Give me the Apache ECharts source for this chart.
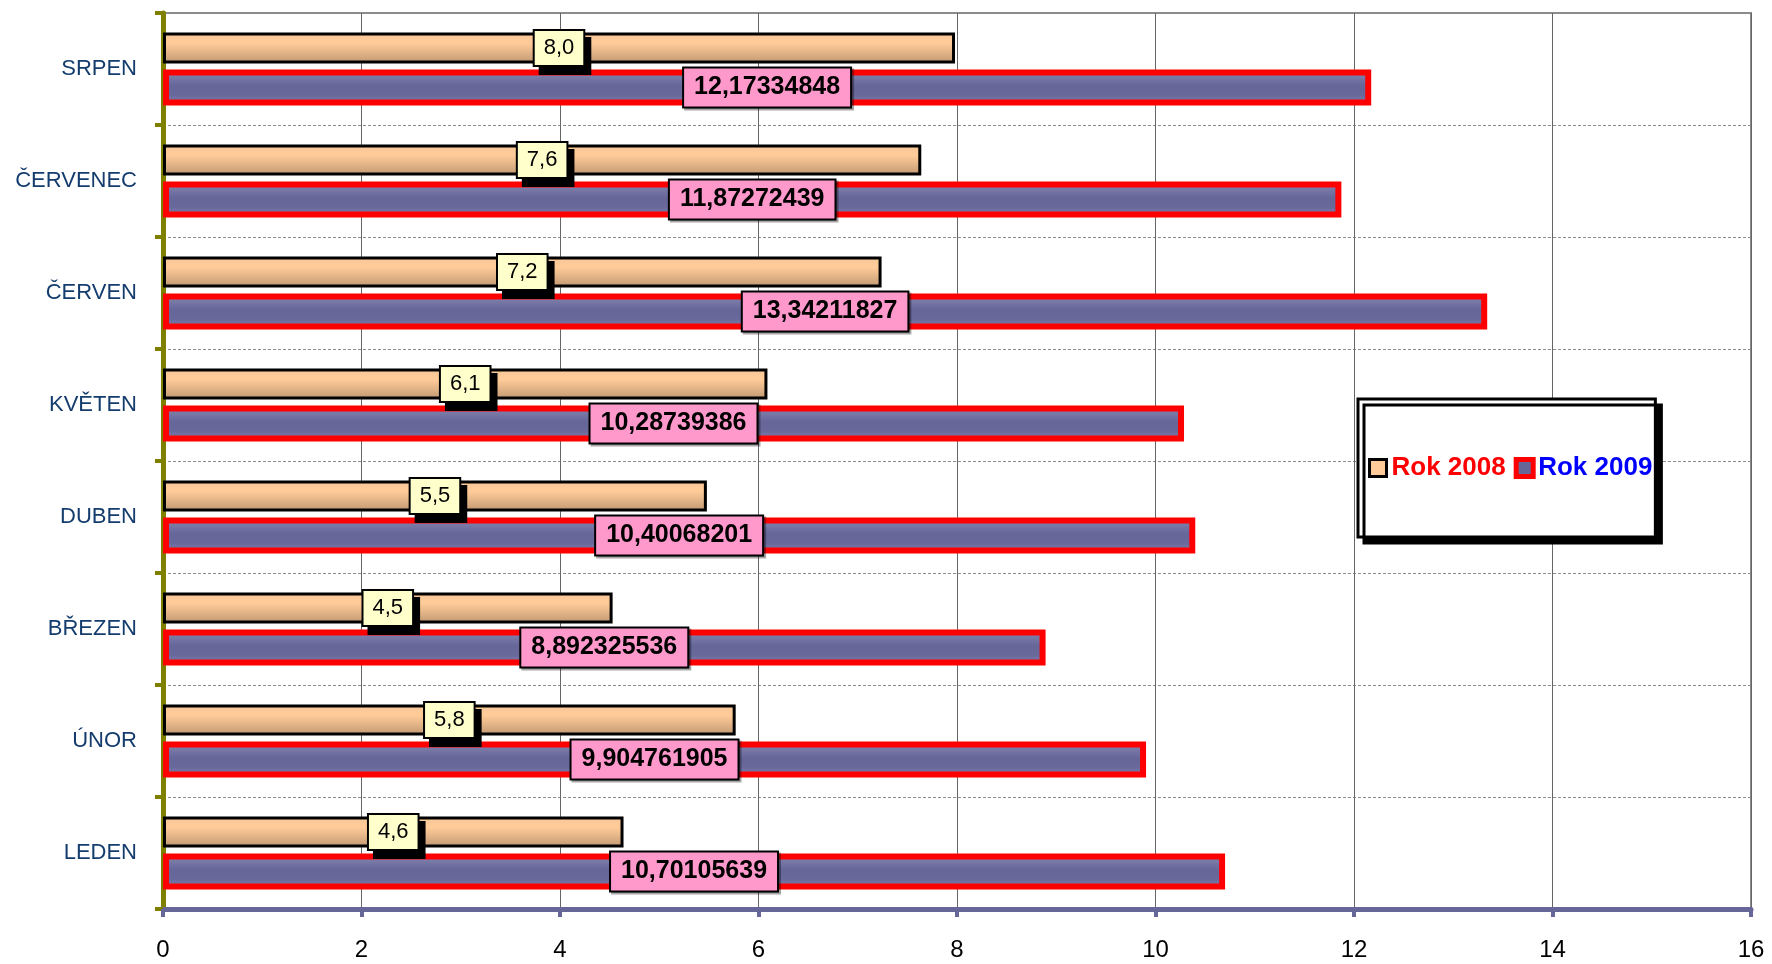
<!DOCTYPE html>
<html>
<head>
<meta charset="utf-8">
<script src="https://cdn.jsdelivr.net/npm/echarts@6/dist/echarts.min.js"></script>
<style>
html,body{margin:0;padding:0;background:#fff;}
#chart{width:1772px;height:964px;}
</style>
</head>
<body>
<div id="chart"></div>
<script>
const categories = ['LEDEN', 'ÚNOR', 'BŘEZEN', 'DUBEN', 'KVĚTEN', 'ČERVEN', 'ČERVENEC', 'SRPEN'];
const rok2008 = [4.64, 5.77, 4.53, 5.48, 6.09, 7.24, 7.64, 7.98];
const rok2009 = [10.70105639, 9.904761905, 8.892325536, 10.40068201, 10.28739386, 13.34211827, 11.87272439, 12.17334848];
const xTicks = [0, 2, 4, 6, 8, 10, 12, 14, 16];

const sans = "'Liberation Sans', Arial, sans-serif";

const chart = echarts.init(document.getElementById('chart'));
chart.setOption({
  animation: false,
  backgroundColor: '#ffffff',
  grid: {
    left: 163, right: 21, top: 13, bottom: 55,
    outerBoundsMode: 'none', containLabel: false,
    show: true, borderColor: '#8c8c8c', borderWidth: 2, backgroundColor: 'transparent'
  },
  legend: {
    left: 1358, top: 399,
    orient: 'horizontal',
    icon: 'rect',
    itemWidth: 17, itemHeight: 17, itemGap: 8,
    padding: [56, 3, 56, 10],
    backgroundColor: '#ffffff',
    borderColor: '#000000', borderWidth: 3, borderRadius: 0,
    shadowColor: '#000000', shadowOffsetX: 6, shadowOffsetY: 6, shadowBlur: 0,
    textStyle: { fontFamily: sans, fontWeight: 'bold', fontSize: 26 },
    data: [
      { name: 'Rok 2008', textStyle: { color: '#ff0000' }, itemStyle: { color: '#ffcc99', borderColor: '#000', borderWidth: 3 } },
      { name: 'Rok 2009', textStyle: { color: '#0000ff' }, itemStyle: { color: '#666699', borderColor: '#ff0000', borderWidth: 5 } }
    ]
  },
  xAxis: {
    type: 'value', min: 0, max: 16, interval: 2,
    axisLine: { show: true, lineStyle: { color: '#666699', width: 5 } },
    axisTick: { show: true, length: 8, lineStyle: { color: '#666699', width: 4 } },
    axisLabel: {
      margin: 29, color: '#000', fontFamily: sans, fontSize: 24,
      formatter: v => xTicks.includes(v) ? String(v) : ''
    },
    splitLine: { show: true, lineStyle: { color: '#666666', width: 1 } }
  },
  yAxis: {
    type: 'category', data: categories,
    axisLine: { show: true, lineStyle: { color: '#808000', width: 5 } },
    axisTick: { show: true, length: 8, lineStyle: { color: '#808000', width: 4 } },
    axisLabel: { margin: 26, color: '#143d6e', fontFamily: sans, fontSize: 22 },
    splitLine: { show: true, lineStyle: { color: '#8a8a8a', width: 1, type: [3, 2] } }
  },
  series: [
    {
      name: 'Rok 2008', type: 'bar', data: rok2008,
      barWidth: 31, barGap: '19.4%',
      itemStyle: {
        color: new echarts.graphic.LinearGradient(0, 0, 0, 1, [
          { offset: 0, color: '#f8c796' }, { offset: 0.35, color: '#ffcc99' },
          { offset: 1, color: '#c09772' }
        ]),
        borderColor: '#000000', borderWidth: 3
      },
      label: {
        show: true, position: 'inside',
        formatter: p => p.value.toFixed(1).replace('.', ','),
        fontFamily: sans, fontSize: 22, color: '#000',
        backgroundColor: '#ffffcc', borderColor: '#000', borderWidth: 2,
        padding: [7, 9, 5, 9],
        shadowColor: '#000', shadowOffsetX: 6, shadowOffsetY: 8, shadowBlur: 0
      },
      z: 3
    },
    {
      name: 'Rok 2009', type: 'bar', data: rok2009,
      barWidth: 36, barGap: '19.4%',
      itemStyle: {
        color: new echarts.graphic.LinearGradient(0, 0, 0, 1, [
          { offset: 0, color: '#8a8ab4' }, { offset: 0.45, color: '#666699' },
          { offset: 0.7, color: '#68689b' }, { offset: 1, color: '#8484ae' }
        ]),
        borderColor: '#ff0000', borderWidth: 6
      },
      label: {
        show: true, position: 'inside',
        formatter: p => String(p.value).replace('.', ','),
        fontFamily: sans, fontWeight: 'bold', fontSize: 25, color: '#000',
        backgroundColor: '#ff99cc', borderColor: '#000', borderWidth: 2,
        padding: [7, 10, 6, 10],
        shadowColor: 'rgba(0,0,0,0.35)', shadowOffsetX: 2, shadowOffsetY: 2, shadowBlur: 0
      },
      z: 2
    }
  ]
});
</script>
</body>
</html>
